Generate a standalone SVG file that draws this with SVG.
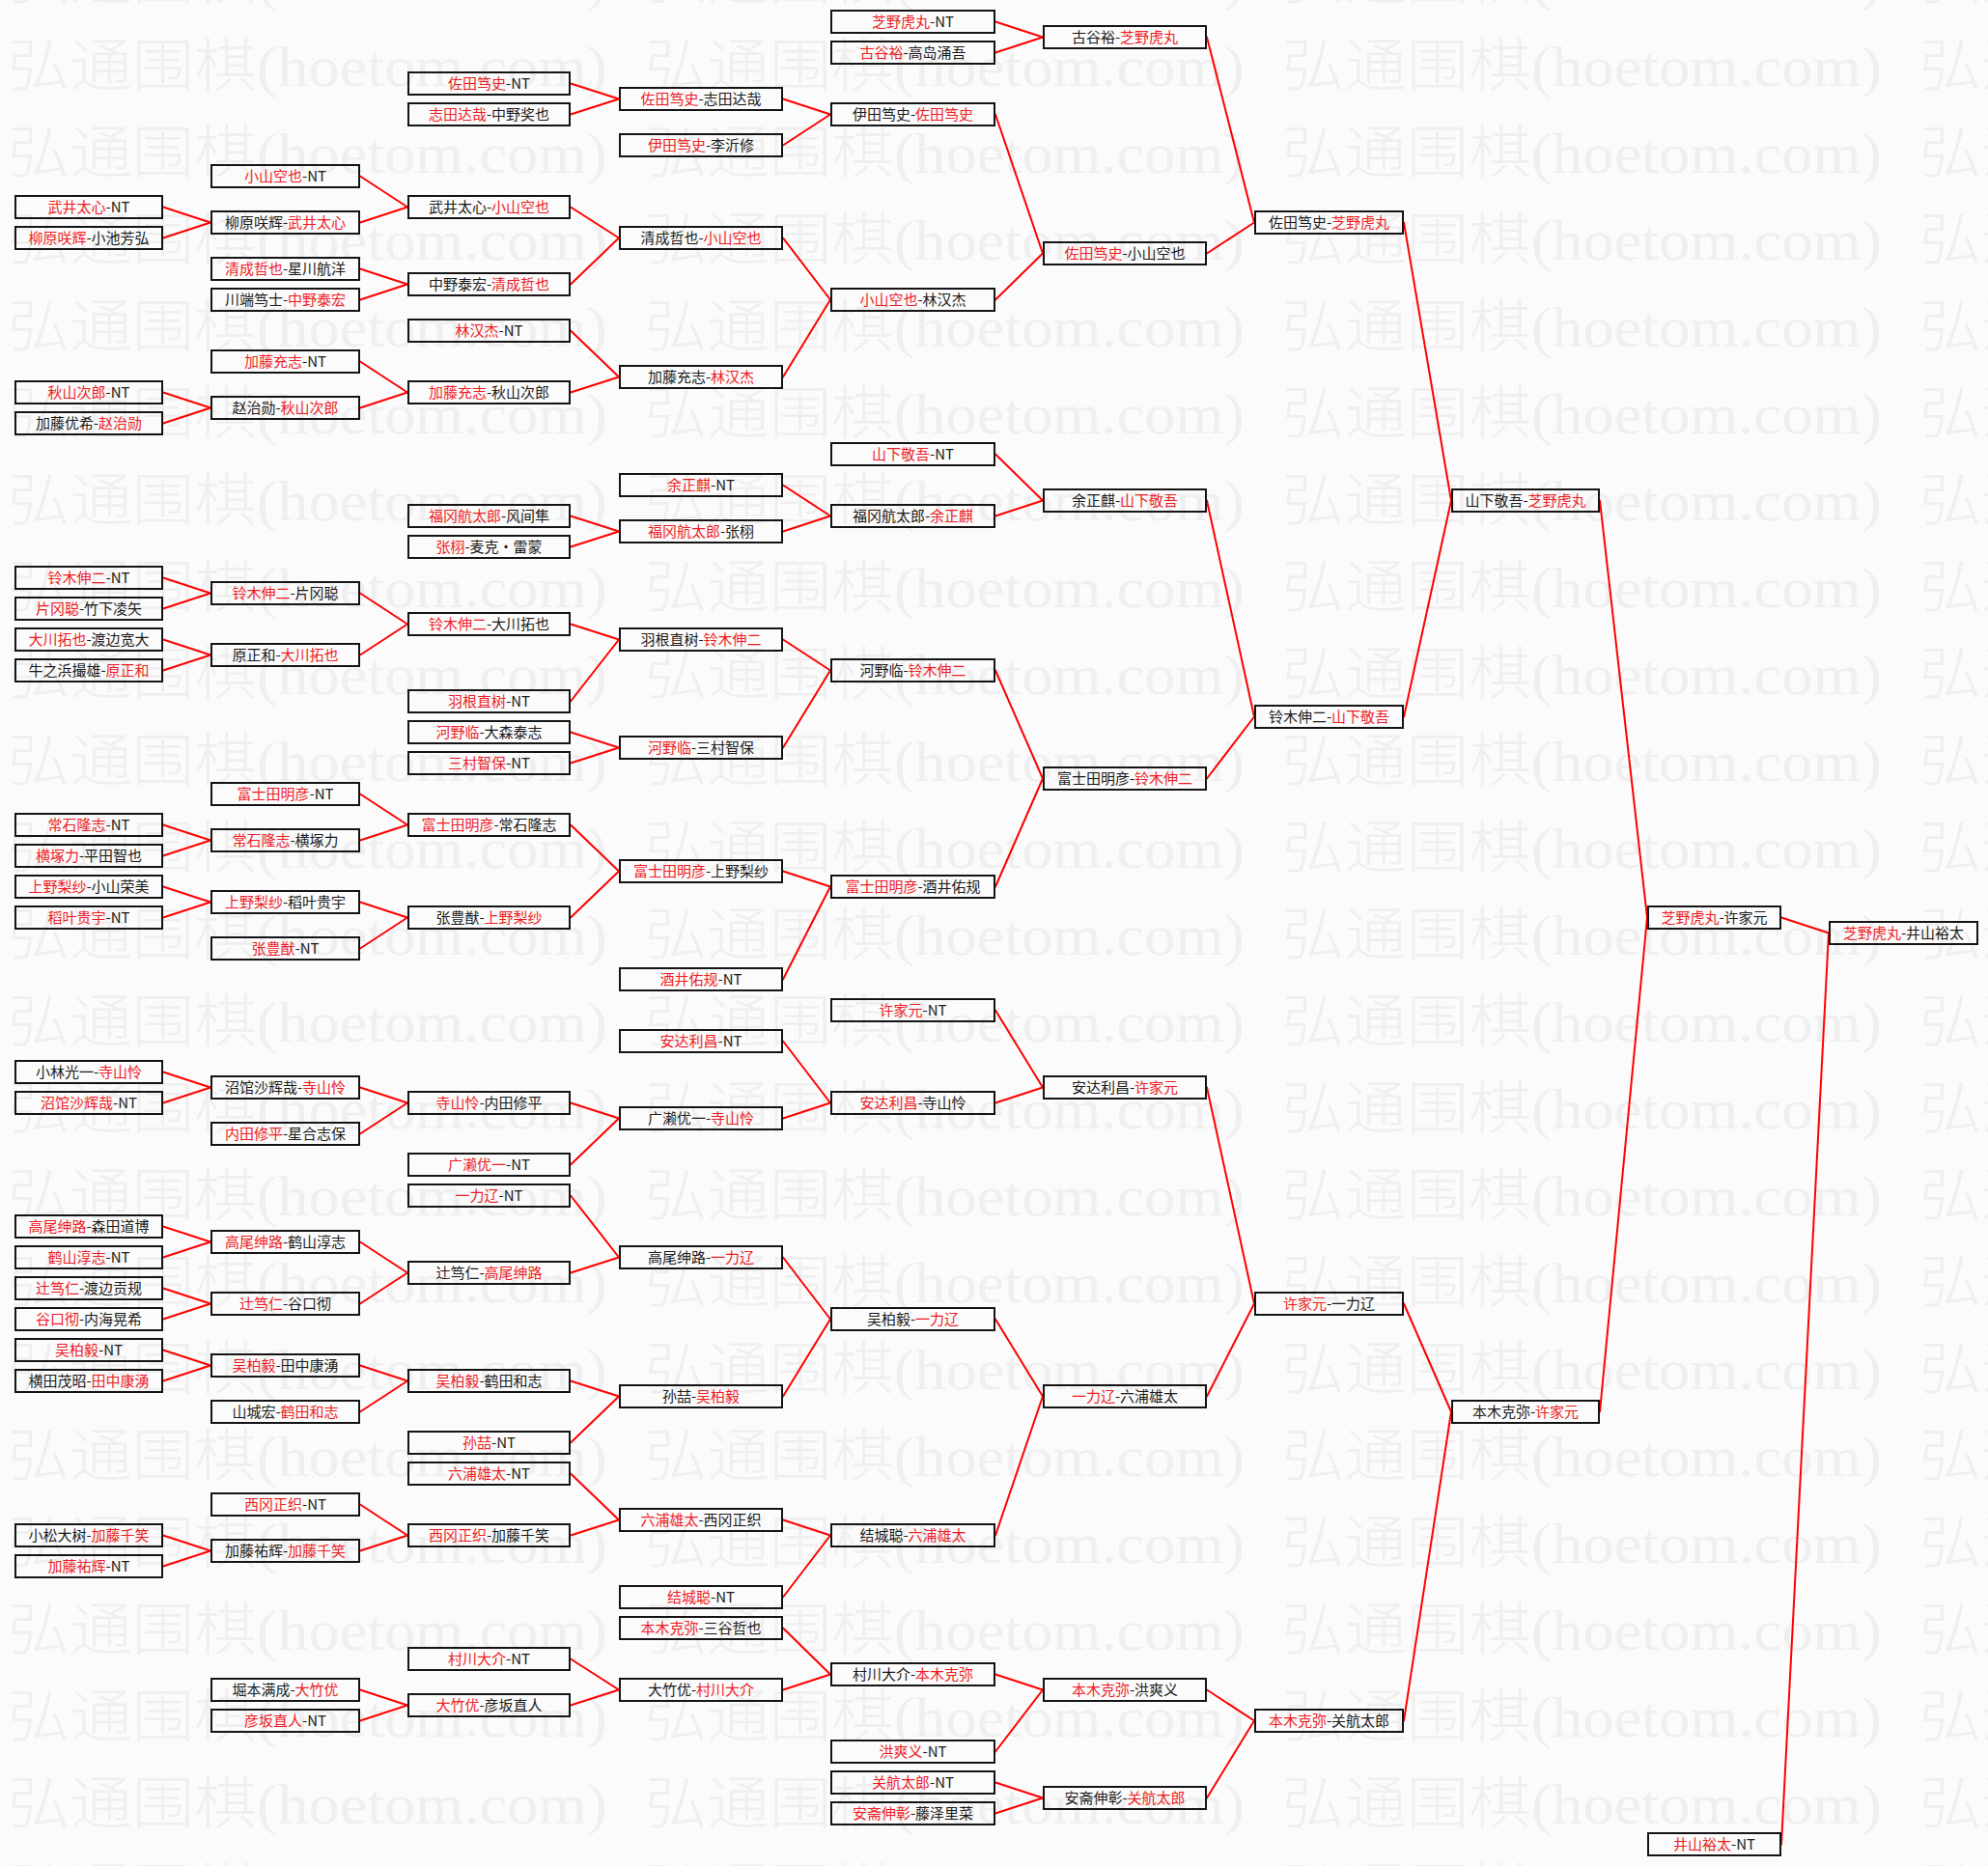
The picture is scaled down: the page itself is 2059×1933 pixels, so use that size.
<svg xmlns="http://www.w3.org/2000/svg" width="2059" height="1933" viewBox="0 0 2059 1933">
<style>
.b{fill:none;stroke:#141414;stroke-width:2}
.t{font-family:"Noto Sans CJK SC","Noto Sans",sans-serif;font-size:15px;fill:#1a1a1a;text-anchor:middle}
.r{fill:#ee1c25}
.c line{stroke:#f00;stroke-width:2;stroke-linecap:round}
.wm{font-family:"Liberation Serif","Noto Sans CJK SC",serif;font-size:59px;font-weight:300;fill:#efefef}
</style>
<defs>
<pattern id="wmp" patternUnits="userSpaceOnUse" x="8" y="30" width="660" height="90">
<text class="wm" x="0" y="59" textLength="621" lengthAdjust="spacingAndGlyphs">弘通围棋(hoetom.com)</text>
</pattern>
</defs>
<rect x="0" y="0" width="2059" height="1933" fill="#fbfbfb"/>
<rect id="watermark" x="0" y="0" width="2059" height="1933" fill="url(#wmp)"/>

<g id="connectors" class="c">
<line x1="169" y1="214.5" x2="218" y2="230.5"/>
<line x1="169" y1="246.5" x2="218" y2="230.5"/>
<line x1="169" y1="406.5" x2="218" y2="422.5"/>
<line x1="169" y1="438.5" x2="218" y2="422.5"/>
<line x1="169" y1="598.5" x2="218" y2="614.5"/>
<line x1="169" y1="630.5" x2="218" y2="614.5"/>
<line x1="169" y1="662.5" x2="218" y2="678.5"/>
<line x1="169" y1="694.5" x2="218" y2="678.5"/>
<line x1="169" y1="854.5" x2="218" y2="870.5"/>
<line x1="169" y1="886.5" x2="218" y2="870.5"/>
<line x1="169" y1="918.5" x2="218" y2="934.5"/>
<line x1="169" y1="950.5" x2="218" y2="934.5"/>
<line x1="169" y1="1110.5" x2="218" y2="1126.5"/>
<line x1="169" y1="1142.5" x2="218" y2="1126.5"/>
<line x1="169" y1="1270.5" x2="218" y2="1286.5"/>
<line x1="169" y1="1302.5" x2="218" y2="1286.5"/>
<line x1="169" y1="1334.5" x2="218" y2="1350.5"/>
<line x1="169" y1="1366.5" x2="218" y2="1350.5"/>
<line x1="169" y1="1398.5" x2="218" y2="1414.5"/>
<line x1="169" y1="1430.5" x2="218" y2="1414.5"/>
<line x1="169" y1="1590.5" x2="218" y2="1606.5"/>
<line x1="169" y1="1622.5" x2="218" y2="1606.5"/>

<line x1="373" y1="182.5" x2="422" y2="214.5"/>
<line x1="373" y1="230.5" x2="422" y2="214.5"/>
<line x1="373" y1="278.5" x2="422" y2="294.5"/>
<line x1="373" y1="310.5" x2="422" y2="294.5"/>
<line x1="373" y1="374.5" x2="422" y2="406.5"/>
<line x1="373" y1="422.5" x2="422" y2="406.5"/>
<line x1="373" y1="614.5" x2="422" y2="646.5"/>
<line x1="373" y1="678.5" x2="422" y2="646.5"/>
<line x1="373" y1="822.5" x2="422" y2="854.5"/>
<line x1="373" y1="870.5" x2="422" y2="854.5"/>
<line x1="373" y1="934.5" x2="422" y2="950.5"/>
<line x1="373" y1="982.5" x2="422" y2="950.5"/>
<line x1="373" y1="1126.5" x2="422" y2="1142.5"/>
<line x1="373" y1="1174.5" x2="422" y2="1142.5"/>
<line x1="373" y1="1286.5" x2="422" y2="1318.5"/>
<line x1="373" y1="1350.5" x2="422" y2="1318.5"/>
<line x1="373" y1="1414.5" x2="422" y2="1430.5"/>
<line x1="373" y1="1462.5" x2="422" y2="1430.5"/>
<line x1="373" y1="1558.5" x2="422" y2="1590.5"/>
<line x1="373" y1="1606.5" x2="422" y2="1590.5"/>
<line x1="373" y1="1750.5" x2="422" y2="1766.5"/>
<line x1="373" y1="1782.5" x2="422" y2="1766.5"/>

<line x1="591" y1="86.5" x2="641" y2="102.5"/>
<line x1="591" y1="118.5" x2="641" y2="102.5"/>
<line x1="591" y1="214.5" x2="641" y2="246.5"/>
<line x1="591" y1="294.5" x2="641" y2="246.5"/>
<line x1="591" y1="342.5" x2="641" y2="390.5"/>
<line x1="591" y1="406.5" x2="641" y2="390.5"/>
<line x1="591" y1="534.5" x2="641" y2="550.5"/>
<line x1="591" y1="566.5" x2="641" y2="550.5"/>
<line x1="591" y1="646.5" x2="641" y2="662.5"/>
<line x1="591" y1="726.5" x2="641" y2="662.5"/>
<line x1="591" y1="758.5" x2="641" y2="774.5"/>
<line x1="591" y1="790.5" x2="641" y2="774.5"/>
<line x1="591" y1="854.5" x2="641" y2="902.5"/>
<line x1="591" y1="950.5" x2="641" y2="902.5"/>
<line x1="591" y1="1142.5" x2="641" y2="1158.5"/>
<line x1="591" y1="1206.5" x2="641" y2="1158.5"/>
<line x1="591" y1="1238.5" x2="641" y2="1302.5"/>
<line x1="591" y1="1318.5" x2="641" y2="1302.5"/>
<line x1="591" y1="1430.5" x2="641" y2="1446.5"/>
<line x1="591" y1="1494.5" x2="641" y2="1446.5"/>
<line x1="591" y1="1526.5" x2="641" y2="1574.5"/>
<line x1="591" y1="1590.5" x2="641" y2="1574.5"/>
<line x1="591" y1="1718.5" x2="641" y2="1750.5"/>
<line x1="591" y1="1766.5" x2="641" y2="1750.5"/>

<line x1="811" y1="102.5" x2="860" y2="118.5"/>
<line x1="811" y1="150.5" x2="860" y2="118.5"/>
<line x1="811" y1="246.5" x2="860" y2="310.5"/>
<line x1="811" y1="390.5" x2="860" y2="310.5"/>
<line x1="811" y1="502.5" x2="860" y2="534.5"/>
<line x1="811" y1="550.5" x2="860" y2="534.5"/>
<line x1="811" y1="662.5" x2="860" y2="694.5"/>
<line x1="811" y1="774.5" x2="860" y2="694.5"/>
<line x1="811" y1="902.5" x2="860" y2="918.5"/>
<line x1="811" y1="1014.5" x2="860" y2="918.5"/>
<line x1="811" y1="1078.5" x2="860" y2="1142.5"/>
<line x1="811" y1="1158.5" x2="860" y2="1142.5"/>
<line x1="811" y1="1302.5" x2="860" y2="1366.5"/>
<line x1="811" y1="1446.5" x2="860" y2="1366.5"/>
<line x1="811" y1="1574.5" x2="860" y2="1590.5"/>
<line x1="811" y1="1654.5" x2="860" y2="1590.5"/>
<line x1="811" y1="1686.5" x2="860" y2="1734.5"/>
<line x1="811" y1="1750.5" x2="860" y2="1734.5"/>

<line x1="1031" y1="22.5" x2="1080" y2="38.5"/>
<line x1="1031" y1="54.5" x2="1080" y2="38.5"/>
<line x1="1031" y1="118.5" x2="1080" y2="262.5"/>
<line x1="1031" y1="310.5" x2="1080" y2="262.5"/>
<line x1="1031" y1="470.5" x2="1080" y2="518.5"/>
<line x1="1031" y1="534.5" x2="1080" y2="518.5"/>
<line x1="1031" y1="694.5" x2="1080" y2="806.5"/>
<line x1="1031" y1="918.5" x2="1080" y2="806.5"/>
<line x1="1031" y1="1046.5" x2="1080" y2="1126.5"/>
<line x1="1031" y1="1142.5" x2="1080" y2="1126.5"/>
<line x1="1031" y1="1366.5" x2="1080" y2="1446.5"/>
<line x1="1031" y1="1590.5" x2="1080" y2="1446.5"/>
<line x1="1031" y1="1734.5" x2="1080" y2="1750.5"/>
<line x1="1031" y1="1814.5" x2="1080" y2="1750.5"/>
<line x1="1031" y1="1846.5" x2="1080" y2="1862.5"/>
<line x1="1031" y1="1878.5" x2="1080" y2="1862.5"/>

<line x1="1250" y1="38.5" x2="1299" y2="230.5"/>
<line x1="1250" y1="262.5" x2="1299" y2="230.5"/>
<line x1="1250" y1="518.5" x2="1299" y2="742.5"/>
<line x1="1250" y1="806.5" x2="1299" y2="742.5"/>
<line x1="1250" y1="1126.5" x2="1299" y2="1350.5"/>
<line x1="1250" y1="1446.5" x2="1299" y2="1350.5"/>
<line x1="1250" y1="1750.5" x2="1299" y2="1782.5"/>
<line x1="1250" y1="1862.5" x2="1299" y2="1782.5"/>

<line x1="1454" y1="230.5" x2="1503" y2="518.5"/>
<line x1="1454" y1="742.5" x2="1503" y2="518.5"/>
<line x1="1454" y1="1350.5" x2="1503" y2="1462.5"/>
<line x1="1454" y1="1782.5" x2="1503" y2="1462.5"/>

<line x1="1657" y1="518.5" x2="1706" y2="950.5"/>
<line x1="1657" y1="1462.5" x2="1706" y2="950.5"/>

<line x1="1845" y1="950.5" x2="1894" y2="966.5"/>
<line x1="1845" y1="1910.5" x2="1894" y2="966.5"/>
</g>

<g id="col1">
<g id="c1-06"><rect class="b" x="16" y="203" width="152" height="23"/><text class="t" x="92" y="220"><tspan class="r">武井太心</tspan>-NT</text></g>
<g id="c1-07"><rect class="b" x="16" y="235" width="152" height="23"/><text class="t" x="92" y="252"><tspan class="r">柳原咲辉</tspan>-小池芳弘</text></g>
<g id="c1-12"><rect class="b" x="16" y="395" width="152" height="23"/><text class="t" x="92" y="412"><tspan class="r">秋山次郎</tspan>-NT</text></g>
<g id="c1-13"><rect class="b" x="16" y="427" width="152" height="23"/><text class="t" x="92" y="444">加藤优希-<tspan class="r">赵治勋</tspan></text></g>
<g id="c1-18"><rect class="b" x="16" y="587" width="152" height="23"/><text class="t" x="92" y="604"><tspan class="r">铃木伸二</tspan>-NT</text></g>
<g id="c1-19"><rect class="b" x="16" y="619" width="152" height="23"/><text class="t" x="92" y="636"><tspan class="r">片冈聪</tspan>-竹下凌矢</text></g>
<g id="c1-20"><rect class="b" x="16" y="651" width="152" height="23"/><text class="t" x="92" y="668"><tspan class="r">大川拓也</tspan>-渡边宽大</text></g>
<g id="c1-21"><rect class="b" x="16" y="683" width="152" height="23"/><text class="t" x="92" y="700">牛之浜撮雄-<tspan class="r">原正和</tspan></text></g>
<g id="c1-26"><rect class="b" x="16" y="843" width="152" height="23"/><text class="t" x="92" y="860"><tspan class="r">常石隆志</tspan>-NT</text></g>
<g id="c1-27"><rect class="b" x="16" y="875" width="152" height="23"/><text class="t" x="92" y="892"><tspan class="r">横塚力</tspan>-平田智也</text></g>
<g id="c1-28"><rect class="b" x="16" y="907" width="152" height="23"/><text class="t" x="92" y="924"><tspan class="r">上野梨纱</tspan>-小山荣美</text></g>
<g id="c1-29"><rect class="b" x="16" y="939" width="152" height="23"/><text class="t" x="92" y="956"><tspan class="r">稻叶贵宇</tspan>-NT</text></g>
<g id="c1-34"><rect class="b" x="16" y="1099" width="152" height="23"/><text class="t" x="92" y="1116">小林光一-<tspan class="r">寺山怜</tspan></text></g>
<g id="c1-35"><rect class="b" x="16" y="1131" width="152" height="23"/><text class="t" x="92" y="1148"><tspan class="r">沼馆沙辉哉</tspan>-NT</text></g>
<g id="c1-39"><rect class="b" x="16" y="1259" width="152" height="23"/><text class="t" x="92" y="1276"><tspan class="r">高尾绅路</tspan>-森田道博</text></g>
<g id="c1-40"><rect class="b" x="16" y="1291" width="152" height="23"/><text class="t" x="92" y="1308"><tspan class="r">鹤山淳志</tspan>-NT</text></g>
<g id="c1-41"><rect class="b" x="16" y="1323" width="152" height="23"/><text class="t" x="92" y="1340"><tspan class="r">辻笃仁</tspan>-渡边贡规</text></g>
<g id="c1-42"><rect class="b" x="16" y="1355" width="152" height="23"/><text class="t" x="92" y="1372"><tspan class="r">谷口彻</tspan>-内海晃希</text></g>
<g id="c1-43"><rect class="b" x="16" y="1387" width="152" height="23"/><text class="t" x="92" y="1404"><tspan class="r">吴柏毅</tspan>-NT</text></g>
<g id="c1-44"><rect class="b" x="16" y="1419" width="152" height="23"/><text class="t" x="92" y="1436">横田茂昭-<tspan class="r">田中康湧</tspan></text></g>
<g id="c1-49"><rect class="b" x="16" y="1579" width="152" height="23"/><text class="t" x="92" y="1596">小松大树-<tspan class="r">加藤千笑</tspan></text></g>
<g id="c1-50"><rect class="b" x="16" y="1611" width="152" height="23"/><text class="t" x="92" y="1628"><tspan class="r">加藤祐辉</tspan>-NT</text></g>
</g>

<g id="col2">
<g id="c2-05"><rect class="b" x="219" y="171" width="153" height="23"/><text class="t" x="295.5" y="188"><tspan class="r">小山空也</tspan>-NT</text></g>
<g id="c2-06h"><rect class="b" x="219" y="219" width="153" height="23"/><text class="t" x="295.5" y="236">柳原咲辉-<tspan class="r">武井太心</tspan></text></g>
<g id="c2-08"><rect class="b" x="219" y="267" width="153" height="23"/><text class="t" x="295.5" y="284"><tspan class="r">清成哲也</tspan>-星川航洋</text></g>
<g id="c2-09"><rect class="b" x="219" y="299" width="153" height="23"/><text class="t" x="295.5" y="316">川端笃士-<tspan class="r">中野泰宏</tspan></text></g>
<g id="c2-11"><rect class="b" x="219" y="363" width="153" height="23"/><text class="t" x="295.5" y="380"><tspan class="r">加藤充志</tspan>-NT</text></g>
<g id="c2-12h"><rect class="b" x="219" y="411" width="153" height="23"/><text class="t" x="295.5" y="428">赵治勋-<tspan class="r">秋山次郎</tspan></text></g>
<g id="c2-18h"><rect class="b" x="219" y="603" width="153" height="23"/><text class="t" x="295.5" y="620"><tspan class="r">铃木伸二</tspan>-片冈聪</text></g>
<g id="c2-20h"><rect class="b" x="219" y="667" width="153" height="23"/><text class="t" x="295.5" y="684">原正和-<tspan class="r">大川拓也</tspan></text></g>
<g id="c2-25"><rect class="b" x="219" y="811" width="153" height="23"/><text class="t" x="295.5" y="828"><tspan class="r">富士田明彦</tspan>-NT</text></g>
<g id="c2-26h"><rect class="b" x="219" y="859" width="153" height="23"/><text class="t" x="295.5" y="876"><tspan class="r">常石隆志</tspan>-横塚力</text></g>
<g id="c2-28h"><rect class="b" x="219" y="923" width="153" height="23"/><text class="t" x="295.5" y="940"><tspan class="r">上野梨纱</tspan>-稻叶贵宇</text></g>
<g id="c2-30"><rect class="b" x="219" y="971" width="153" height="23"/><text class="t" x="295.5" y="988"><tspan class="r">张豊猷</tspan>-NT</text></g>
<g id="c2-34h"><rect class="b" x="219" y="1115" width="153" height="23"/><text class="t" x="295.5" y="1132">沼馆沙辉哉-<tspan class="r">寺山怜</tspan></text></g>
<g id="c2-36"><rect class="b" x="219" y="1163" width="153" height="23"/><text class="t" x="295.5" y="1180"><tspan class="r">内田修平</tspan>-星合志保</text></g>
<g id="c2-39h"><rect class="b" x="219" y="1275" width="153" height="23"/><text class="t" x="295.5" y="1292"><tspan class="r">高尾绅路</tspan>-鹤山淳志</text></g>
<g id="c2-41h"><rect class="b" x="219" y="1339" width="153" height="23"/><text class="t" x="295.5" y="1356"><tspan class="r">辻笃仁</tspan>-谷口彻</text></g>
<g id="c2-43h"><rect class="b" x="219" y="1403" width="153" height="23"/><text class="t" x="295.5" y="1420"><tspan class="r">吴柏毅</tspan>-田中康湧</text></g>
<g id="c2-45"><rect class="b" x="219" y="1451" width="153" height="23"/><text class="t" x="295.5" y="1468">山城宏-<tspan class="r">鹤田和志</tspan></text></g>
<g id="c2-48"><rect class="b" x="219" y="1547" width="153" height="23"/><text class="t" x="295.5" y="1564"><tspan class="r">西冈正织</tspan>-NT</text></g>
<g id="c2-49h"><rect class="b" x="219" y="1595" width="153" height="23"/><text class="t" x="295.5" y="1612">加藤祐辉-<tspan class="r">加藤千笑</tspan></text></g>
<g id="c2-54"><rect class="b" x="219" y="1739" width="153" height="23"/><text class="t" x="295.5" y="1756">堀本满成-<tspan class="r">大竹优</tspan></text></g>
<g id="c2-55"><rect class="b" x="219" y="1771" width="153" height="23"/><text class="t" x="295.5" y="1788"><tspan class="r">彦坂直人</tspan>-NT</text></g>
</g>

<g id="col3">
<g id="c3-02"><rect class="b" x="423" y="75" width="167" height="23"/><text class="t" x="506.5" y="92"><tspan class="r">佐田笃史</tspan>-NT</text></g>
<g id="c3-03"><rect class="b" x="423" y="107" width="167" height="23"/><text class="t" x="506.5" y="124"><tspan class="r">志田达哉</tspan>-中野奖也</text></g>
<g id="c3-06"><rect class="b" x="423" y="203" width="167" height="23"/><text class="t" x="506.5" y="220">武井太心-<tspan class="r">小山空也</tspan></text></g>
<g id="c3-08h"><rect class="b" x="423" y="283" width="167" height="23"/><text class="t" x="506.5" y="300">中野泰宏-<tspan class="r">清成哲也</tspan></text></g>
<g id="c3-10"><rect class="b" x="423" y="331" width="167" height="23"/><text class="t" x="506.5" y="348"><tspan class="r">林汉杰</tspan>-NT</text></g>
<g id="c3-12"><rect class="b" x="423" y="395" width="167" height="23"/><text class="t" x="506.5" y="412"><tspan class="r">加藤充志</tspan>-秋山次郎</text></g>
<g id="c3-16"><rect class="b" x="423" y="523" width="167" height="23"/><text class="t" x="506.5" y="540"><tspan class="r">福冈航太郎</tspan>-风间隼</text></g>
<g id="c3-17"><rect class="b" x="423" y="555" width="167" height="23"/><text class="t" x="506.5" y="572"><tspan class="r">张栩</tspan>-麦克・雷蒙</text></g>
<g id="c3-19h"><rect class="b" x="423" y="635" width="167" height="23"/><text class="t" x="506.5" y="652"><tspan class="r">铃木伸二</tspan>-大川拓也</text></g>
<g id="c3-22"><rect class="b" x="423" y="715" width="167" height="23"/><text class="t" x="506.5" y="732"><tspan class="r">羽根直树</tspan>-NT</text></g>
<g id="c3-23"><rect class="b" x="423" y="747" width="167" height="23"/><text class="t" x="506.5" y="764"><tspan class="r">河野临</tspan>-大森泰志</text></g>
<g id="c3-24"><rect class="b" x="423" y="779" width="167" height="23"/><text class="t" x="506.5" y="796"><tspan class="r">三村智保</tspan>-NT</text></g>
<g id="c3-26"><rect class="b" x="423" y="843" width="167" height="23"/><text class="t" x="506.5" y="860"><tspan class="r">富士田明彦</tspan>-常石隆志</text></g>
<g id="c3-29"><rect class="b" x="423" y="939" width="167" height="23"/><text class="t" x="506.5" y="956">张豊猷-<tspan class="r">上野梨纱</tspan></text></g>
<g id="c3-35"><rect class="b" x="423" y="1131" width="167" height="23"/><text class="t" x="506.5" y="1148"><tspan class="r">寺山怜</tspan>-内田修平</text></g>
<g id="c3-37"><rect class="b" x="423" y="1195" width="167" height="23"/><text class="t" x="506.5" y="1212"><tspan class="r">广濑优一</tspan>-NT</text></g>
<g id="c3-38"><rect class="b" x="423" y="1227" width="167" height="23"/><text class="t" x="506.5" y="1244"><tspan class="r">一力辽</tspan>-NT</text></g>
<g id="c3-40h"><rect class="b" x="423" y="1307" width="167" height="23"/><text class="t" x="506.5" y="1324">辻笃仁-<tspan class="r">高尾绅路</tspan></text></g>
<g id="c3-44"><rect class="b" x="423" y="1419" width="167" height="23"/><text class="t" x="506.5" y="1436"><tspan class="r">吴柏毅</tspan>-鹤田和志</text></g>
<g id="c3-46"><rect class="b" x="423" y="1483" width="167" height="23"/><text class="t" x="506.5" y="1500"><tspan class="r">孙喆</tspan>-NT</text></g>
<g id="c3-47"><rect class="b" x="423" y="1515" width="167" height="23"/><text class="t" x="506.5" y="1532"><tspan class="r">六浦雄太</tspan>-NT</text></g>
<g id="c3-49"><rect class="b" x="423" y="1579" width="167" height="23"/><text class="t" x="506.5" y="1596"><tspan class="r">西冈正织</tspan>-加藤千笑</text></g>
<g id="c3-53"><rect class="b" x="423" y="1707" width="167" height="23"/><text class="t" x="506.5" y="1724"><tspan class="r">村川大介</tspan>-NT</text></g>
<g id="c3-54h"><rect class="b" x="423" y="1755" width="167" height="23"/><text class="t" x="506.5" y="1772"><tspan class="r">大竹优</tspan>-彦坂直人</text></g>
</g>

<g id="col4">
<g id="c4-02h"><rect class="b" x="642" y="91" width="168" height="23"/><text class="t" x="726" y="108"><tspan class="r">佐田笃史</tspan>-志田达哉</text></g>
<g id="c4-04"><rect class="b" x="642" y="139" width="168" height="23"/><text class="t" x="726" y="156"><tspan class="r">伊田笃史</tspan>-李沂修</text></g>
<g id="c4-07"><rect class="b" x="642" y="235" width="168" height="23"/><text class="t" x="726" y="252">清成哲也-<tspan class="r">小山空也</tspan></text></g>
<g id="c4-11h"><rect class="b" x="642" y="379" width="168" height="23"/><text class="t" x="726" y="396">加藤充志-<tspan class="r">林汉杰</tspan></text></g>
<g id="c4-15"><rect class="b" x="642" y="491" width="168" height="23"/><text class="t" x="726" y="508"><tspan class="r">余正麒</tspan>-NT</text></g>
<g id="c4-16h"><rect class="b" x="642" y="539" width="168" height="23"/><text class="t" x="726" y="556"><tspan class="r">福冈航太郎</tspan>-张栩</text></g>
<g id="c4-20"><rect class="b" x="642" y="651" width="168" height="23"/><text class="t" x="726" y="668">羽根直树-<tspan class="r">铃木伸二</tspan></text></g>
<g id="c4-23h"><rect class="b" x="642" y="763" width="168" height="23"/><text class="t" x="726" y="780"><tspan class="r">河野临</tspan>-三村智保</text></g>
<g id="c4-27h"><rect class="b" x="642" y="891" width="168" height="23"/><text class="t" x="726" y="908"><tspan class="r">富士田明彦</tspan>-上野梨纱</text></g>
<g id="c4-31"><rect class="b" x="642" y="1003" width="168" height="23"/><text class="t" x="726" y="1020"><tspan class="r">酒井佑规</tspan>-NT</text></g>
<g id="c4-33"><rect class="b" x="642" y="1067" width="168" height="23"/><text class="t" x="726" y="1084"><tspan class="r">安达利昌</tspan>-NT</text></g>
<g id="c4-35h"><rect class="b" x="642" y="1147" width="168" height="23"/><text class="t" x="726" y="1164">广濑优一-<tspan class="r">寺山怜</tspan></text></g>
<g id="c4-40"><rect class="b" x="642" y="1291" width="168" height="23"/><text class="t" x="726" y="1308">高尾绅路-<tspan class="r">一力辽</tspan></text></g>
<g id="c4-44h"><rect class="b" x="642" y="1435" width="168" height="23"/><text class="t" x="726" y="1452">孙喆-<tspan class="r">吴柏毅</tspan></text></g>
<g id="c4-48h"><rect class="b" x="642" y="1563" width="168" height="23"/><text class="t" x="726" y="1580"><tspan class="r">六浦雄太</tspan>-西冈正织</text></g>
<g id="c4-51"><rect class="b" x="642" y="1643" width="168" height="23"/><text class="t" x="726" y="1660"><tspan class="r">结城聪</tspan>-NT</text></g>
<g id="c4-52"><rect class="b" x="642" y="1675" width="168" height="23"/><text class="t" x="726" y="1692"><tspan class="r">本木克弥</tspan>-三谷哲也</text></g>
<g id="c4-54"><rect class="b" x="642" y="1739" width="168" height="23"/><text class="t" x="726" y="1756">大竹优-<tspan class="r">村川大介</tspan></text></g>
</g>

<g id="col5">
<g id="c5-00"><rect class="b" x="861" y="11" width="169" height="23"/><text class="t" x="945.5" y="28"><tspan class="r">芝野虎丸</tspan>-NT</text></g>
<g id="c5-01"><rect class="b" x="861" y="43" width="169" height="23"/><text class="t" x="945.5" y="60"><tspan class="r">古谷裕</tspan>-高岛涌吾</text></g>
<g id="c5-03"><rect class="b" x="861" y="107" width="169" height="23"/><text class="t" x="945.5" y="124">伊田笃史-<tspan class="r">佐田笃史</tspan></text></g>
<g id="c5-09"><rect class="b" x="861" y="299" width="169" height="23"/><text class="t" x="945.5" y="316"><tspan class="r">小山空也</tspan>-林汉杰</text></g>
<g id="c5-14"><rect class="b" x="861" y="459" width="169" height="23"/><text class="t" x="945.5" y="476"><tspan class="r">山下敬吾</tspan>-NT</text></g>
<g id="c5-16"><rect class="b" x="861" y="523" width="169" height="23"/><text class="t" x="945.5" y="540">福冈航太郎-<tspan class="r">余正麒</tspan></text></g>
<g id="c5-21"><rect class="b" x="861" y="683" width="169" height="23"/><text class="t" x="945.5" y="700">河野临-<tspan class="r">铃木伸二</tspan></text></g>
<g id="c5-28"><rect class="b" x="861" y="907" width="169" height="23"/><text class="t" x="945.5" y="924"><tspan class="r">富士田明彦</tspan>-酒井佑规</text></g>
<g id="c5-32"><rect class="b" x="861" y="1035" width="169" height="23"/><text class="t" x="945.5" y="1052"><tspan class="r">许家元</tspan>-NT</text></g>
<g id="c5-35"><rect class="b" x="861" y="1131" width="169" height="23"/><text class="t" x="945.5" y="1148"><tspan class="r">安达利昌</tspan>-寺山怜</text></g>
<g id="c5-42"><rect class="b" x="861" y="1355" width="169" height="23"/><text class="t" x="945.5" y="1372">吴柏毅-<tspan class="r">一力辽</tspan></text></g>
<g id="c5-49"><rect class="b" x="861" y="1579" width="169" height="23"/><text class="t" x="945.5" y="1596">结城聪-<tspan class="r">六浦雄太</tspan></text></g>
<g id="c5-53h"><rect class="b" x="861" y="1723" width="169" height="23"/><text class="t" x="945.5" y="1740">村川大介-<tspan class="r">本木克弥</tspan></text></g>
<g id="c5-56"><rect class="b" x="861" y="1803" width="169" height="23"/><text class="t" x="945.5" y="1820"><tspan class="r">洪爽义</tspan>-NT</text></g>
<g id="c5-57"><rect class="b" x="861" y="1835" width="169" height="23"/><text class="t" x="945.5" y="1852"><tspan class="r">关航太郎</tspan>-NT</text></g>
<g id="c5-58"><rect class="b" x="861" y="1867" width="169" height="23"/><text class="t" x="945.5" y="1884"><tspan class="r">安斋伸彰</tspan>-藤泽里菜</text></g>
</g>

<g id="col6">
<g id="c6-00h"><rect class="b" x="1081" y="27" width="168" height="23"/><text class="t" x="1165" y="44">古谷裕-<tspan class="r">芝野虎丸</tspan></text></g>
<g id="c6-07h"><rect class="b" x="1081" y="251" width="168" height="23"/><text class="t" x="1165" y="268"><tspan class="r">佐田笃史</tspan>-小山空也</text></g>
<g id="c6-15h"><rect class="b" x="1081" y="507" width="168" height="23"/><text class="t" x="1165" y="524">余正麒-<tspan class="r">山下敬吾</tspan></text></g>
<g id="c6-24h"><rect class="b" x="1081" y="795" width="168" height="23"/><text class="t" x="1165" y="812">富士田明彦-<tspan class="r">铃木伸二</tspan></text></g>
<g id="c6-34h"><rect class="b" x="1081" y="1115" width="168" height="23"/><text class="t" x="1165" y="1132">安达利昌-<tspan class="r">许家元</tspan></text></g>
<g id="c6-44h"><rect class="b" x="1081" y="1435" width="168" height="23"/><text class="t" x="1165" y="1452"><tspan class="r">一力辽</tspan>-六浦雄太</text></g>
<g id="c6-54"><rect class="b" x="1081" y="1739" width="168" height="23"/><text class="t" x="1165" y="1756"><tspan class="r">本木克弥</tspan>-洪爽义</text></g>
<g id="c6-57h"><rect class="b" x="1081" y="1851" width="168" height="23"/><text class="t" x="1165" y="1868">安斋伸彰-<tspan class="r">关航太郎</tspan></text></g>
</g>

<g id="col7">
<g id="c7-06h"><rect class="b" x="1300" y="219" width="153" height="23"/><text class="t" x="1376.5" y="236">佐田笃史-<tspan class="r">芝野虎丸</tspan></text></g>
<g id="c7-22h"><rect class="b" x="1300" y="731" width="153" height="23"/><text class="t" x="1376.5" y="748">铃木伸二-<tspan class="r">山下敬吾</tspan></text></g>
<g id="c7-41h"><rect class="b" x="1300" y="1339" width="153" height="23"/><text class="t" x="1376.5" y="1356"><tspan class="r">许家元</tspan>-一力辽</text></g>
<g id="c7-55"><rect class="b" x="1300" y="1771" width="153" height="23"/><text class="t" x="1376.5" y="1788"><tspan class="r">本木克弥</tspan>-关航太郎</text></g>
</g>

<g id="col8">
<g id="c8-15h"><rect class="b" x="1504" y="507" width="152" height="23"/><text class="t" x="1580" y="524">山下敬吾-<tspan class="r">芝野虎丸</tspan></text></g>
<g id="c8-45"><rect class="b" x="1504" y="1451" width="152" height="23"/><text class="t" x="1580" y="1468">本木克弥-<tspan class="r">许家元</tspan></text></g>
</g>

<g id="col9">
<g id="c9-29"><rect class="b" x="1707" y="939" width="137" height="23"/><text class="t" x="1775.5" y="956"><tspan class="r">芝野虎丸</tspan>-许家元</text></g>
<g id="c9-59"><rect class="b" x="1707" y="1899" width="137" height="23"/><text class="t" x="1775.5" y="1916"><tspan class="r">井山裕太</tspan>-NT</text></g>
</g>

<g id="col10">
<g id="c10-29h"><rect class="b" x="1895" y="955" width="153" height="23"/><text class="t" x="1971.5" y="972"><tspan class="r">芝野虎丸</tspan>-井山裕太</text></g>
</g>
</svg>
